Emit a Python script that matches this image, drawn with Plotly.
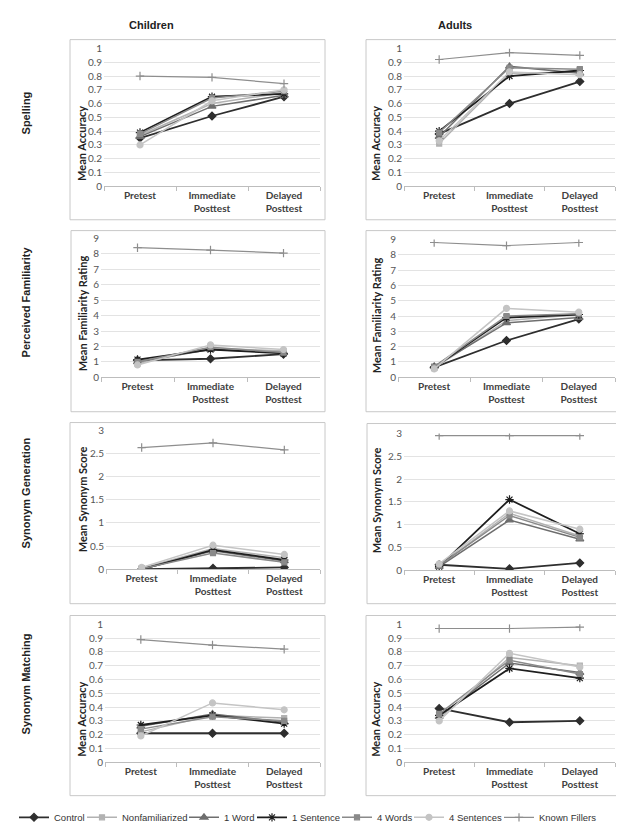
import plotly.graph_objects as go

W, H = 624, 836

phases = ["Pretest", "Immediate<br>Posttest", "Delayed<br>Posttest"]
groups = ["Control", "Nonfamiliarized", "1 Word", "1 Sentence",
          "4 Words", "4 Sentences", "Known Fillers"]

# values per group (order as in groups), each [Pretest, Immediate, Delayed]
spelling_children = [
    [0.35, 0.51, 0.65], [0.37, 0.60, 0.68], [0.36, 0.58, 0.66], [0.39, 0.65, 0.67],
    [0.38, 0.64, 0.69], [0.30, 0.62, 0.70], [0.80, 0.79, 0.745]]
spelling_adults = [
    [0.38, 0.60, 0.76], [0.31, 0.82, 0.83], [0.36, 0.87, 0.82], [0.40, 0.80, 0.84],
    [0.39, 0.86, 0.85], [0.33, 0.83, 0.81], [0.92, 0.97, 0.95]]
familiarity_children = [
    [1.1, 1.2, 1.5], [0.9, 1.9, 1.7], [1.0, 1.8, 1.6], [1.15, 1.8, 1.55],
    [1.0, 1.95, 1.6], [0.8, 2.1, 1.8], [8.4, 8.25, 8.05]]
familiarity_adults = [
    [0.65, 2.4, 3.8], [0.6, 3.7, 4.1], [0.7, 3.55, 3.9], [0.65, 3.9, 4.1],
    [0.7, 4.0, 4.15], [0.55, 4.5, 4.25], [8.8, 8.6, 8.8]]
generation_children = [
    [0.0, 0.02, 0.04], [0.02, 0.45, 0.25], [0.0, 0.40, 0.18], [0.0, 0.42, 0.20],
    [0.01, 0.35, 0.15], [0.04, 0.52, 0.32], [2.63, 2.73, 2.58]]
generation_adults = [
    [0.12, 0.03, 0.16], [0.10, 1.25, 0.75], [0.08, 1.10, 0.68], [0.08, 1.55, 0.80],
    [0.10, 1.20, 0.72], [0.14, 1.30, 0.90], [2.95, 2.95, 2.95]]
matching_children = [
    [0.21, 0.21, 0.21], [0.22, 0.34, 0.32], [0.26, 0.35, 0.29], [0.27, 0.34, 0.28],
    [0.24, 0.33, 0.30], [0.19, 0.43, 0.38], [0.89, 0.85, 0.82]]
matching_adults = [
    [0.39, 0.29, 0.30], [0.31, 0.76, 0.70], [0.33, 0.72, 0.65], [0.34, 0.68, 0.61],
    [0.35, 0.74, 0.64], [0.30, 0.79, 0.69], [0.97, 0.97, 0.98]]

column_titles = ["Children", "Adults"]
row_titles = ["Spelling", "Perceived Familiarity", "Synonym Generation", "Synonym Matching"]
y_titles = ["Mean Accuracy", "Mean Familiarity Rating", "Mean Synonym Score", "Mean Accuracy"]

# ---- styles ----
colors = ["#2e2e2e", "#b2b2b2", "#6e6e6e", "#1e1e1e", "#8a8a8a", "#c4c4c4", "#8e8e8e"]
symbols = ["diamond", "square", "triangle-up", "asterisk-open", "square", "circle", "cross-thin-open"]
msizes = [6, 5, 7, 7, 5, 6, 6]
lwidths = [1.8, 1.5, 1.5, 1.8, 1.5, 1.5, 1.2]
legend_widths = [23, 57, 23, 40, 27, 45, 0]

panels = [
    # data, ymax, dtick, x0, x1, ytop, ybot, box(x0,y0,x1,y1), ytitle pos (x,y)  [px]
    (spelling_children, 1, 0.1, 96, 312, 34, 174, (62, 25, 317, 208), (74, 131)),
    (spelling_adults, 1, 0.1, 396, 607, 34, 174, (358, 25, 610, 208), (368, 131)),
    (familiarity_children, 9, 1, 93, 312, 227, 368, (63, 219, 317, 403), (74, 303)),
    (familiarity_adults, 9, 1, 390, 607, 228, 368, (358, 219, 610, 403), (368, 305)),
    (generation_children, 3, 0.5, 98, 312, 422, 563, (62, 414, 317, 598), (74, 492)),
    (generation_adults, 3, 0.5, 396, 607, 425, 564, (359, 415, 610, 598), (368, 493)),
    (matching_children, 1, 0.1, 97, 312, 619, 759, (62, 610, 317, 793), (74, 716)),
    (matching_adults, 1, 0.1, 396, 607, 619, 759, (358, 610, 610, 793), (368, 716)),
]


def fx(px):
    return px / W


def fy(py):
    return 1 - py / H


fig = go.Figure()
layout = dict(
    width=W, height=H,
    margin=dict(l=0, r=0, t=0, b=0),
    paper_bgcolor="white", plot_bgcolor="white",
    font=dict(family="Lato", color="#444"),
    showlegend=True,
    legend=dict(orientation="h", x=fx(6), xanchor="left", y=fy(815), yanchor="middle",
                font=dict(family="Liberation Sans", size=9.5, color="#333"),
                bgcolor="rgba(0,0,0,0)", tracegroupgap=0),
)
shapes = []
annotations = []

for i, (data, ymax, dtick, x0, x1, yt, yb, box, ttl) in enumerate(panels):
    n = "" if i == 0 else str(i + 1)
    xa, ya = "x" + n, "y" + n
    for g, name in enumerate(groups):
        fig.add_trace(go.Scatter(
            x=phases, y=data[g], name=name, xaxis=xa, yaxis=ya,
            mode="lines+markers",
            line=dict(color=colors[g], width=lwidths[g]),
            marker=dict(symbol=symbols[g], size=msizes[g], color=colors[g],
                        line=dict(color=colors[g], width=1.2)),
            showlegend=(i == 0),
            legendwidth=legend_widths[g] if (i == 0 and legend_widths[g] > 0) else None,
            hoverinfo="x+y+name",
        ))
    layout["xaxis" + n] = dict(
        domain=[fx(x0), fx(x1)], anchor=ya, type="category",
        categoryorder="array", categoryarray=phases, range=[-0.5, 2.5],
        showline=True, linecolor="#bdbdbd", linewidth=1,
        ticks="outside", tickson="boundaries", ticklen=4, tickcolor="#bdbdbd",
        showgrid=False, zeroline=False,
        tickfont=dict(family="Lato", size=10, color="#404040", weight="bold"),
        fixedrange=True,
    )
    layout["yaxis" + n] = dict(
        domain=[fy(yb), fy(yt)], anchor=xa, range=[0, ymax], dtick=dtick,
        showgrid=True, gridcolor="#e3e3e3", gridwidth=1,
        showline=False, zeroline=False, ticks="",
        ticklabelstandoff=1,
        tickfont=dict(family="Lato", size=10, color="#555"),
        fixedrange=True,
    )
    shapes.append(dict(type="rect", xref="paper", yref="paper",
                       x0=fx(box[0]), x1=fx(box[2]), y0=fy(box[3]), y1=fy(box[1]),
                       line=dict(color="#c8c8c8", width=1), fillcolor="rgba(0,0,0,0)",
                       layer="below"))
    annotations.append(dict(text=y_titles[i // 2], xref="paper", yref="paper",
                            x=fx(ttl[0]), y=fy(ttl[1]), textangle=-90,
                            showarrow=False, xanchor="center", yanchor="middle",
                            font=dict(family="Lato", size=11, color="#222", weight="bold")))

for c, (t, px) in enumerate(zip(column_titles, [143, 447])):
    annotations.append(dict(text=t, xref="paper", yref="paper", x=fx(px), y=fy(10),
                            showarrow=False, xanchor="center", yanchor="middle",
                            font=dict(family="Liberation Sans", size=11, color="#222",
                                      weight="bold")))

for r, (t, py) in enumerate(zip(row_titles, [100, 292, 486, 680])):
    annotations.append(dict(text=t, xref="paper", yref="paper", x=fx(18), y=fy(py),
                            textangle=-90, showarrow=False, xanchor="center",
                            yanchor="middle",
                            font=dict(family="Liberation Sans", size=11, color="#222",
                                      weight="bold")))

layout["shapes"] = shapes
layout["annotations"] = annotations
fig.update_layout(**layout)
fig.write_html("out.html")
